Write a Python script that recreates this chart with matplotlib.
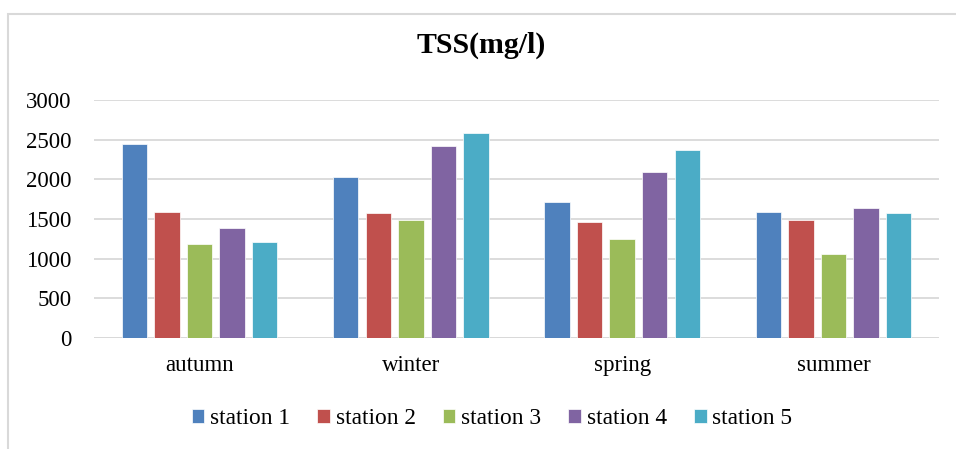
import matplotlib
matplotlib.use('Agg')
import matplotlib.pyplot as plt
import numpy as np
from matplotlib.patches import Rectangle

seasons = ["autumn", "winter", "spring", "summer"]
stations = ["station 1", "station 2", "station 3", "station 4", "station 5"]
station_1 = [2450, 2025, 1720, 1590]
station_2 = [1590, 1580, 1460, 1490]
station_3 = [1190, 1485, 1250, 1060]
station_4 = [1390, 2420, 2090, 1640]
station_5 = [1215, 2590, 2375, 1580]
colors = ["#4F81BD", "#C0504D", "#9BBB59", "#8064A2", "#4BACC6"]
yticks = [0, 500, 1000, 1500, 2000, 2500, 3000]

def main():
    plt.rcParams["font.family"] = ["Liberation Serif", "DejaVu Serif"]

    fig = plt.figure(figsize=(9.56, 4.49), dpi=100)
    # 外枠（右と下ははみ出す）
    top = 1 - 14 / 449
    fig.patches.append(Rectangle((7.5 / 956, -0.1), 1.1, top + 0.1,
                                 transform=fig.transFigure, fill=False,
                                 edgecolor="#D9D9D9", linewidth=1.5))

    ax = fig.add_axes([94 / 956, 111 / 449, 845 / 956, 238 / 449])
    x = np.arange(len(seasons))
    series = [station_1, station_2, station_3, station_4, station_5]
    step, width = 0.154, 0.12
    for j, (name, vals) in enumerate(zip(stations, series)):
        ax.bar(x + (j - 2) * step, vals, width, color=colors[j], label=name,
               edgecolor="white", linewidth=0.5, zorder=3)

    ax.set_xlim(-0.5, 3.5)
    ax.set_ylim(0, 3000)
    ax.set_yticks(yticks)
    ax.set_xticks(x)
    ax.set_xticklabels(seasons)
    ax.yaxis.grid(True, color="#D9D9D9", linewidth=1.3, zorder=0)
    for s in ["top", "right", "left", "bottom"]:
        ax.spines[s].set_visible(False)
    ax.axhline(0, color="#D9D9D9", linewidth=1.3, zorder=2)
    ax.tick_params(axis="both", length=0, labelsize=16.5)
    ax.tick_params(axis="y", pad=16)
    ax.tick_params(axis="x", pad=12)

    fig.text(0.503, 1 - 45 / 449, "TSS(mg/l)", ha="center", va="center",
             fontsize=21.5, fontweight="bold")

    fig.legend(loc="center", bbox_to_anchor=(492 / 956, 1 - 419 / 449), ncol=5,
               frameon=False, fontsize=16.8, handlelength=0.55, handleheight=0.55,
               handletextpad=0.25, columnspacing=1.15, borderpad=0)

    fig.savefig("out.png", dpi=100)


if __name__ == "__main__":
    main()
